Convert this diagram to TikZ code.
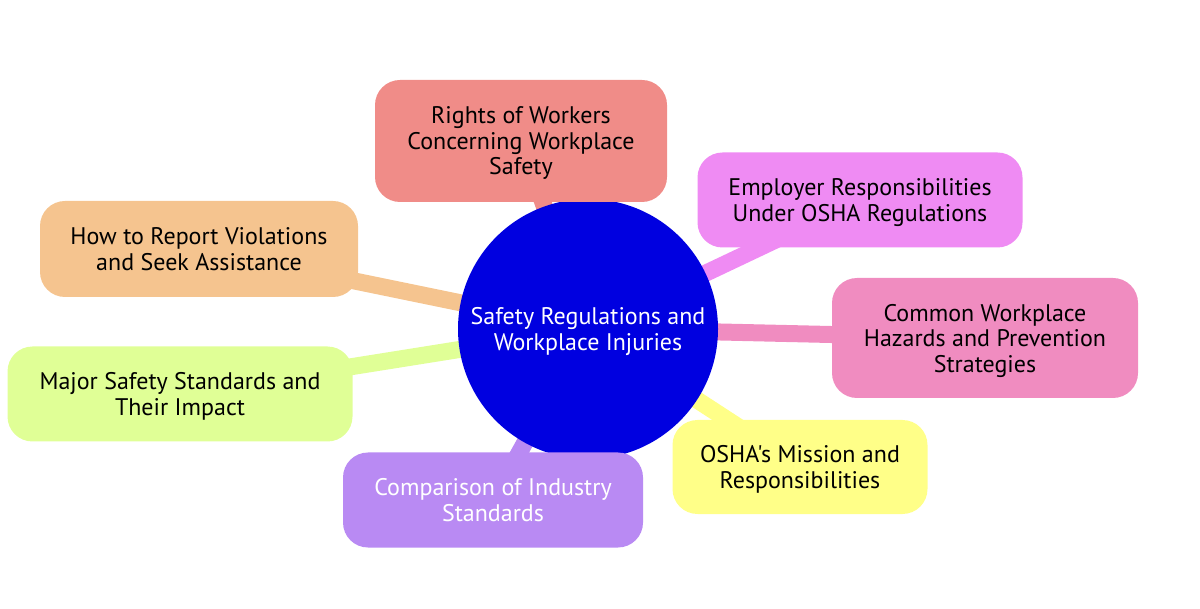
\documentclass[tikz,border=0pt]{standalone}
\usepackage{fontspec}
\setmainfont{PT Sans}[Ligatures=TeXOff]
\usetikzlibrary{backgrounds}
\definecolor{hubblue}{HTML}{0000E0}
\definecolor{rightsred}{HTML}{F08C88}
\definecolor{employerpink}{HTML}{EF8BF3}
\definecolor{hazardpink}{HTML}{F08CC0}
\definecolor{oshayellow}{HTML}{FFFF88}
\definecolor{comparepurple}{HTML}{B98AF3}
\definecolor{majorgreen}{HTML}{E0FF96}
\definecolor{reportorange}{HTML}{F5C48F}
\tikzset{
  label text/.style={align=center,inner sep=0pt,font=\fontsize{24}{25.5}\selectfont,
    execute at begin node=\strut,execute at end node=\strut,text depth=-2pt},
  topic/.style={rectangle,rounded corners=25pt,label text},
  branch/.style={line width=17pt,line cap=butt}
}
\begin{document}
\begin{tikzpicture}[x=1pt,y=-1pt]
				\useasboundingbox (0,0) rectangle (1200,609);
				% central topic
				\node[circle,fill=hubblue,minimum size=260pt,label text,text=white] (hub) at (588,329)
				{Safety Regulations and\\Workplace Injuries};
				% branches
				\node[topic,fill=rightsred,minimum width=292pt,minimum height=122pt]
				(rights) at (521,141) {Rights of Workers\\Concerning Workplace\\Safety};
				\node[topic,fill=employerpink,minimum width=325pt,minimum height=95pt]
				(employer) at (860,200) {Employer Responsibilities\\Under OSHA Regulations};
				\node[topic,fill=hazardpink,minimum width=306pt,minimum height=120pt]
				(hazards) at (985,338) {Common Workplace\\Hazards and Prevention\\Strategies};
				\node[topic,fill=oshayellow,minimum width=255pt,minimum height=94pt]
				(osha) at (800,467) {OSHA's Mission and\\Responsibilities};
				\node[topic,fill=comparepurple,text=white,minimum width=300pt,minimum height=95pt]
				(compare) at (493,500) {Comparison of Industry\\Standards};
				\node[topic,fill=majorgreen,minimum width=345pt,minimum height=95pt]
				(major) at (180,394) {Major Safety Standards and\\Their Impact};
				\node[topic,fill=reportorange,minimum width=318pt,minimum height=96pt]
				(report) at (199,249) {How to Report Violations\\and Seek Assistance};
				\begin{scope}[on background layer]
				\draw[branch,rightsred] (hub.center)--(rights.center);
				\draw[branch,employerpink] (hub.center)--(employer.center);
				\draw[branch,hazardpink] (hub.center)--(hazards.center);
				\draw[branch,oshayellow] (hub.center)--(osha.center);
				\draw[branch,comparepurple] (hub.center)--(compare.center);
				\draw[branch,majorgreen] (hub.center)--(major.center);
				\draw[branch,reportorange] (hub.center)--(report.center);
				\end{scope}
			\end{tikzpicture}
\end{document}
